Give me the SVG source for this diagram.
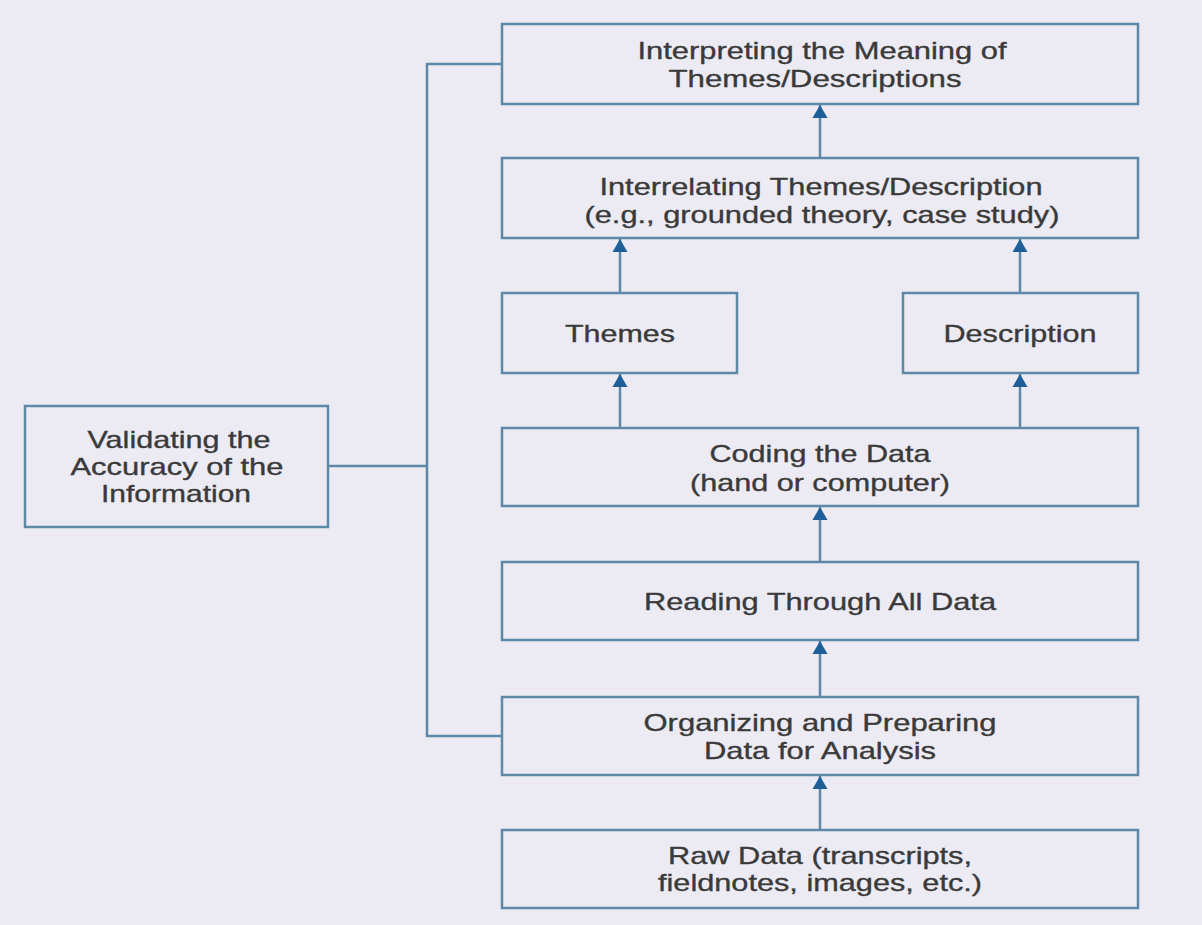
<svg xmlns="http://www.w3.org/2000/svg" width="1202" height="925" viewBox="0 0 1202 925">
<defs>
<style>
.box{fill:#ecebf3;stroke:#5d88a8;stroke-width:2.5}
.ln{fill:none;stroke:#5d88a8;stroke-width:2.5}
.t{font-family:"Liberation Sans",Arial,sans-serif;font-size:24px;fill:#3a3a3a;stroke:#3a3a3a;stroke-width:0.35;text-anchor:middle}
</style>
<marker id="a" viewBox="0 0 13 16" refX="13" refY="8" markerWidth="13" markerHeight="16" orient="auto" markerUnits="userSpaceOnUse">
<path d="M0,0.5 L13,8 L0,15.5 z" fill="#1f5f99"/>
</marker>
</defs>
<rect x="0" y="0" width="1202" height="925" fill="#ecebf3"/>
<g id="connectors">
<path class="ln" d="M502,64 H427 V736 H502"/>
<path class="ln" d="M328,466 H427"/>
<path class="ln" d="M820,158 V105" marker-end="url(#a)"/>
<path class="ln" d="M620,293 V239" marker-end="url(#a)"/>
<path class="ln" d="M1020,293 V239" marker-end="url(#a)"/>
<path class="ln" d="M620,428 V374" marker-end="url(#a)"/>
<path class="ln" d="M1020,428 V374" marker-end="url(#a)"/>
<path class="ln" d="M820,562 V507" marker-end="url(#a)"/>
<path class="ln" d="M820,697 V641" marker-end="url(#a)"/>
<path class="ln" d="M820,830 V776" marker-end="url(#a)"/>
</g>
<g id="interpreting">
<rect class="box" x="502" y="24" width="636" height="80"/>
<text class="t" x="822" y="59" textLength="369" lengthAdjust="spacingAndGlyphs">Interpreting the Meaning of</text>
<text class="t" x="815" y="87" textLength="293" lengthAdjust="spacingAndGlyphs">Themes/Descriptions</text>
</g>
<g id="interrelating">
<rect class="box" x="502" y="158" width="636" height="80"/>
<text class="t" x="821" y="195" textLength="443" lengthAdjust="spacingAndGlyphs">Interrelating Themes/Description</text>
<text class="t" x="822" y="223" textLength="475" lengthAdjust="spacingAndGlyphs">(e.g., grounded theory, case study)</text>
</g>
<g id="themes">
<rect class="box" x="502" y="293" width="235" height="80"/>
<text class="t" x="620" y="342" textLength="110" lengthAdjust="spacingAndGlyphs">Themes</text>
</g>
<g id="description">
<rect class="box" x="903" y="293" width="235" height="80"/>
<text class="t" x="1020" y="342" textLength="153" lengthAdjust="spacingAndGlyphs">Description</text>
</g>
<g id="coding">
<rect class="box" x="502" y="428" width="636" height="78"/>
<text class="t" x="820" y="462" textLength="221" lengthAdjust="spacingAndGlyphs">Coding the Data</text>
<text class="t" x="820" y="491" textLength="260" lengthAdjust="spacingAndGlyphs">(hand or computer)</text>
</g>
<g id="reading">
<rect class="box" x="502" y="562" width="636" height="78"/>
<text class="t" x="820" y="610" textLength="352" lengthAdjust="spacingAndGlyphs">Reading Through All Data</text>
</g>
<g id="organizing">
<rect class="box" x="502" y="697" width="636" height="78"/>
<text class="t" x="820" y="731" textLength="353" lengthAdjust="spacingAndGlyphs">Organizing and Preparing</text>
<text class="t" x="820" y="759" textLength="232" lengthAdjust="spacingAndGlyphs">Data for Analysis</text>
</g>
<g id="raw">
<rect class="box" x="502" y="830" width="636" height="78"/>
<text class="t" x="820" y="864" textLength="304" lengthAdjust="spacingAndGlyphs">Raw Data (transcripts,</text>
<text class="t" x="820" y="891" textLength="324" lengthAdjust="spacingAndGlyphs">fieldnotes, images, etc.)</text>
</g>
<g id="validating">
<rect class="box" x="25" y="406" width="303" height="121"/>
<text class="t" x="179" y="448" textLength="183" lengthAdjust="spacingAndGlyphs">Validating the</text>
<text class="t" x="177" y="475" textLength="213" lengthAdjust="spacingAndGlyphs">Accuracy of the</text>
<text class="t" x="176" y="502" textLength="150" lengthAdjust="spacingAndGlyphs">Information</text>
</g>
</svg>
